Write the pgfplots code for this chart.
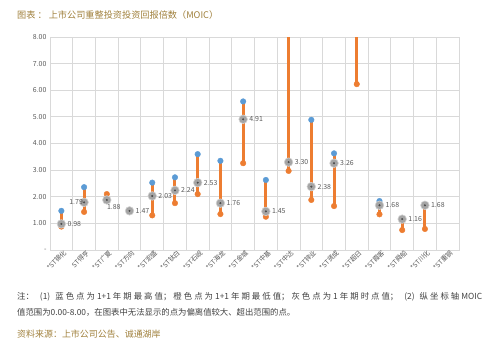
\documentclass[border=0pt]{standalone}
\usepackage{fontspec}
\setmainfont{Noto Sans CJK SC}
\usepackage{pgfplots}
\pgfplotsset{compat=1.18}
\definecolor{cblue}{HTML}{5B9BD5}
\definecolor{corange}{HTML}{ED7D31}
\definecolor{cgray}{HTML}{A5A5A5}
\definecolor{cgrid}{HTML}{D9D9D9}
\definecolor{ctitle}{HTML}{A0803C}
\definecolor{ctext}{HTML}{595959}
\definecolor{cnote}{HTML}{404040}
\begin{document}
\begin{tikzpicture}[x=1bp,y=1bp]
\path[use as bounding box] (0,0) rectangle (495,353);
\node[anchor=west, text=ctitle, font=\fontsize{9.2}{11}\selectfont, inner sep=0] at (17,338) {图表 ： 上市公司重整投资投资回报倍数（MOIC）};
\begin{axis}[
  at={(50bp,103bp)}, anchor=south west, scale only axis,
  width=409bp, height=213bp,
  xmin=-0.5, xmax=17.5, ymin=0, ymax=8,
  xtick={0,...,17},
  xticklabels={{*ST锦化},{ST得亨},{*ST广夏},{*ST方向},{*ST宏盛},{*ST钛白},{*ST石岘},{*ST海龙},{*ST金城},{*ST中基},{*ST中达},{*ST锌业},{*ST贤成},{*ST超日},{*ST霞客},{*ST舜船},{*ST川化},{*ST重钢}},
  x tick label style={rotate=45, anchor=north east, font=\fontsize{6.6}{8}\selectfont, text=ctext, inner sep=0.5bp, xshift=2bp},
  minor xtick={0.5,1.5,...,16.5},
  xminorgrids, minor x grid style={cgrid, line width=0.8bp},
  ytick={0,1,...,8},
  yticklabels={-,1.00,2.00,3.00,4.00,5.00,6.00,7.00,8.00},
  y tick label style={font=\fontsize{7}{8}\selectfont, text=ctext},
  ymajorgrids, major grid style={cgrid, line width=0.8bp},
  axis line style={cgrid, line width=0.8bp},
  major tick length=0pt, minor tick length=0pt,
  /pgf/number format/assume math mode=true,
  clip=true,
]
% orange range lines low -> high
\addplot[color=corange, line width=3bp, unbounded coords=jump] table[row sep=\\] {
x y\\
0 0.88\\ 0 1.47\\ 0 nan\\
1 1.43\\ 1 2.36\\ 1 nan\\
2 2.10\\ 2 1.88\\ 2 nan\\
4 1.30\\ 4 2.53\\ 4 nan\\
5 1.76\\ 5 2.73\\ 5 nan\\
6 2.10\\ 6 3.60\\ 6 nan\\
7 1.35\\ 7 3.35\\ 7 nan\\
8 3.26\\ 8 5.58\\ 8 nan\\
9 1.25\\ 9 2.63\\ 9 nan\\
10 2.97\\ 10 12\\ 10 nan\\
11 1.88\\ 11 4.89\\ 11 nan\\
12 1.65\\ 12 3.63\\ 12 nan\\
13 6.23\\ 13 14\\ 13 nan\\
14 1.34\\ 14 1.84\\ 14 nan\\
15 0.75\\ 15 1.16\\ 15 nan\\
16 0.79\\ 16 1.70\\
};
% orange low points
\addplot[color=corange, only marks, mark=*, mark size=2.8bp, mark options={solid, fill=corange, draw=corange}] table[row sep=\\] {
x y\\ 0 0.88\\ 1 1.43\\ 2 2.10\\ 4 1.30\\ 5 1.76\\ 6 2.10\\ 7 1.35\\ 8 3.26\\ 9 1.25\\ 10 2.97\\ 11 1.88\\ 12 1.65\\ 13 6.23\\ 14 1.34\\ 15 0.75\\ 16 0.79\\
};
% blue high points
\addplot[color=cblue, only marks, mark=*, mark size=2.8bp, mark options={solid, fill=cblue, draw=cblue}] table[row sep=\\] {
x y\\ 0 1.47\\ 1 2.36\\ 2 1.88\\ 3 1.47\\ 4 2.53\\ 5 2.73\\ 6 3.60\\ 7 3.35\\ 8 5.58\\ 9 2.63\\ 11 4.89\\ 12 3.63\\ 14 1.84\\ 15 1.16\\ 16 1.70\\
};
% gray current points
\addplot[color=cgray, only marks, mark=*, mark size=4.3bp, mark options={solid, fill=cgray, draw=white!50!cgray, line width=0.6bp}] table[row sep=\\] {
x y\\ 0 0.98\\ 1 1.79\\ 2 1.88\\ 3 1.47\\ 4 2.03\\ 5 2.24\\ 6 2.53\\ 7 1.76\\ 8 4.91\\ 9 1.45\\ 10 3.30\\ 11 2.38\\ 12 3.26\\ 14 1.68\\ 15 1.16\\ 16 1.68\\
};
\addplot[color=black!70, only marks, mark=*, mark size=0.8bp, mark options={solid, fill=black!70, draw=black!70}] table[row sep=\\] {
x y\\ 0 0.98\\ 1 1.79\\ 2 1.88\\ 3 1.47\\ 4 2.03\\ 5 2.24\\ 6 2.53\\ 7 1.76\\ 8 4.91\\ 9 1.45\\ 10 3.30\\ 11 2.38\\ 12 3.26\\ 14 1.68\\ 15 1.16\\ 16 1.68\\
};
% labels right
\addplot[only marks, mark=none, nodes near coords, point meta=explicit symbolic,
  nodes near coords style={anchor=west, xshift=5bp, font=\fontsize{7}{8}\selectfont, text=ctext, inner sep=1bp}]
  table[row sep=\\, meta=l] {
x y l\\ 0 0.98 0.98\\ 3 1.47 1.47\\ 4 2.03 2.03\\ 5 2.24 2.24\\ 6 2.53 2.53\\ 7 1.76 1.76\\ 8 4.91 4.91\\ 9 1.45 1.45\\ 10 3.30 3.30\\ 11 2.38 2.38\\ 12 3.26 3.26\\ 14 1.68 1.68\\ 15 1.16 1.16\\ 16 1.68 1.68\\
};
% label left
\addplot[only marks, mark=none, nodes near coords, point meta=explicit symbolic,
  nodes near coords style={anchor=east, xshift=0bp, font=\fontsize{7}{8}\selectfont, text=ctext, inner sep=1bp}]
  table[row sep=\\, meta=l] {
x y l\\ 1 1.79 1.79\\
};
% label below
\addplot[only marks, mark=none, nodes near coords, point meta=explicit symbolic,
  nodes near coords style={anchor=north west, xshift=-1bp, yshift=-3bp, font=\fontsize{7}{8}\selectfont, text=ctext, inner sep=1bp}]
  table[row sep=\\, meta=l] {
x y l\\ 2 1.88 1.88\\
};
\end{axis}
\node[anchor=west, text=cnote, font=\fontsize{8.4}{10}\selectfont, inner sep=0] at (17,56) {\parbox{465bp}{\XeTeXlinebreaklocale "zh"\XeTeXlinebreakskip=0pt plus 1pt\relax\parfillskip=0pt\relax\noindent 注：\hspace{4bp plus 1pt}(1)\hspace{3bp plus 1pt}蓝色点为1+1年期最高值；橙色点为1+1年期最低值；灰色点为1年期时点值；\hspace{4bp plus 1pt}(2)\hspace{3bp plus 1pt}纵坐标轴MOIC}};
\node[anchor=west, text=cnote, font=\fontsize{8.4}{10}\selectfont, inner sep=0] at (17,41) {值范围为0.00-8.00，在图表中无法显示的点为偏离值较大、超出范围的点。};
\node[anchor=west, text=ctitle, font=\fontsize{9}{11}\selectfont, inner sep=0] at (17,19) {资料来源：上市公司公告、诚通湖岸};
\end{tikzpicture}
\end{document}
